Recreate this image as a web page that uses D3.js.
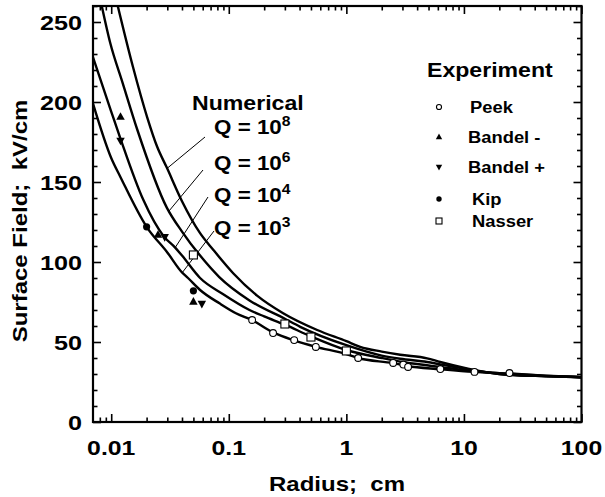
<!DOCTYPE html>
<html><head><meta charset="utf-8">
<script src="https://cdn.jsdelivr.net/npm/d3@7"></script>
<style>
body{margin:0;background:#fff}
svg{display:block}
text{font-family:"Liberation Sans",Arial,Helvetica,sans-serif;font-weight:bold;fill:#000}
</style>
</head><body><svg id="c" width="605" height="497"></svg>
<script>
// ---------- data ----------
const xTickValues = [0.01, 0.1, 1, 10, 100];
const xTickLabels = ["0.01", "0.1", "1", "10", "100"];
const yTickValues = [0, 50, 100, 150, 200, 250];
const yTickLabels = ["0", "50", "100", "150", "200", "250"];

const qExponents = ["8", "6", "4", "3"];

// Numerical curves (radius cm, surface field kV/cm)
const q3R = [0.007, 0.01, 0.012, 0.02, 0.03, 0.04, 0.045, 0.057, 0.084, 0.115, 0.158, 0.238, 0.36, 0.55, 1.0, 1.26, 2.5, 3.3, 6.3, 12, 25, 50, 100];
const q3V = [199, 165, 153, 122, 106, 93.5, 90, 82.5, 74, 68, 63.7, 56, 51, 47, 42.5, 40, 36.8, 35, 33, 31.3, 30.3, 29, 28];
const q4R = [0.007, 0.01, 0.012, 0.0187, 0.028, 0.035, 0.04, 0.057, 0.089, 0.15, 0.2, 0.3, 0.5, 1.0, 2, 3, 5, 10, 20, 50, 100];
const q4V = [228, 194, 177, 139, 116, 109, 104, 90, 80, 70, 66, 60.8, 53.5, 45, 40, 37.5, 35.3, 32.5, 30.5, 28.8, 28];
const q6R = [0.0082, 0.0098, 0.0125, 0.0167, 0.0297, 0.04, 0.057, 0.083, 0.15, 0.3, 0.405, 1.0, 2, 2.87, 4.86, 6.28, 10.6, 20, 50, 100];
const q6V = [262, 237, 212, 182.5, 134, 119, 104, 90.6, 76, 64.5, 59.5, 48, 41.5, 39.5, 37.5, 36, 33, 30, 28.6, 28];
const q8R = [0.0112, 0.0153, 0.0202, 0.0246, 0.0297, 0.04, 0.057, 0.074, 0.109, 0.174, 0.29, 0.565, 1.0, 1.31, 2, 2.87, 4.86, 6.28, 10.6, 20, 50, 100];
const q8V = [262, 222, 190.6, 172, 159, 138, 118, 107.5, 93, 79, 68, 57.5, 50.5, 47, 44, 42, 39.8, 37.5, 33.5, 30, 28.6, 28];

// Experiments
const peekR = [0.158, 0.238, 0.36, 0.55, 1.26, 2.5, 3.05, 3.35, 6.3, 12.3, 24.4];
const peekV = [63.75, 55.6, 51.2, 46.9, 40, 36.9, 35.9, 34.4, 33.1, 31.3, 30.6];
const bandelMinusR = [0.012, 0.025, 0.05];
const bandelMinusV = [190.8, 117, 75.2];
const bandelPlusR = [0.012, 0.0285, 0.059];
const bandelPlusV = [175.8, 115.6, 73.8];
const kipR = [0.02, 0.05];
const kipV = [122, 82];
const nasserR = [0.05, 0.3, 0.5, 1.0];
const nasserV = [104.4, 61.25, 53.1, 44.4];

const legendNames = ["Peek", "Bandel -", "Bandel +", "Kip", "Nasser"];

// ---------- layout ----------
const svg = d3.select("#c");
const L = 93, R = 581.5, T = 6, B = 422;
const x = d3.scaleLog().domain([0.007, 100]).range([L, R]);
const y = d3.scaleLinear().domain([0, 260]).range([B, T]);

function stext(g, px, py, str, size, anchor, sx, rot) {
  const gg = g.append("g").attr("transform",
    `translate(${px},${py})` + (rot ? ` rotate(${rot})` : "") + ` scale(${sx},1)`);
  return gg.append("text").attr("x", 0).attr("y", 0)
    .attr("font-size", size).attr("text-anchor", anchor).text(str);
}

// clip
svg.append("defs").append("clipPath").attr("id", "plot")
  .append("rect").attr("x", L).attr("y", T).attr("width", R - L).attr("height", B - T);

// ticks
const minorX = [];
for (let d = -3; d <= 1; d++) for (let k = 2; k <= 9; k++) {
  const v = k * Math.pow(10, d);
  if (v > 0.0071 && v < 100) minorX.push(v);
}
const minorY = d3.range(0, 261, 10).filter(v => v % 50 !== 0);

function styleAxis(g) {
  g.select(".domain").remove();
  g.selectAll("line").attr("stroke", "#000").attr("stroke-width", 1.6);
  g.selectAll("text").remove();
}
const axes = svg.append("g");
axes.append("g").attr("transform", `translate(0,${B})`).call(d3.axisBottom(x).tickValues(xTickValues).tickSize(-8).tickSizeOuter(0)).call(styleAxis);
axes.append("g").attr("transform", `translate(0,${B})`).call(d3.axisBottom(x).tickValues(minorX).tickSize(-4.5).tickSizeOuter(0)).call(styleAxis);
axes.append("g").attr("transform", `translate(0,${T})`).call(d3.axisTop(x).tickValues(xTickValues).tickSize(-8).tickSizeOuter(0)).call(styleAxis);
axes.append("g").attr("transform", `translate(0,${T})`).call(d3.axisTop(x).tickValues(minorX).tickSize(-4.5).tickSizeOuter(0)).call(styleAxis);
axes.append("g").attr("transform", `translate(${L},0)`).call(d3.axisLeft(y).tickValues(yTickValues).tickSize(-8).tickSizeOuter(0)).call(styleAxis);
axes.append("g").attr("transform", `translate(${L},0)`).call(d3.axisLeft(y).tickValues(minorY).tickSize(-4.5).tickSizeOuter(0)).call(styleAxis);
axes.append("g").attr("transform", `translate(${R},0)`).call(d3.axisRight(y).tickValues(yTickValues).tickSize(-8).tickSizeOuter(0)).call(styleAxis);
axes.append("g").attr("transform", `translate(${R},0)`).call(d3.axisRight(y).tickValues(minorY).tickSize(-4.5).tickSizeOuter(0)).call(styleAxis);

// tick labels
xTickValues.forEach((v, i) => stext(svg, x(v), 455, xTickLabels[i], 21, "middle", 1.18));
yTickValues.forEach((v, i) => stext(svg, 82, y(v) + 7.5, yTickLabels[i], 21, "end", 1.2));

// axis titles
stext(svg, 337, 491, "Radius;\u00A0 cm", 20, "middle", 1.2);
stext(svg, 27, 221, "Surface Field;\u00A0 kV/cm", 20, "middle", 1.2, -90);

// curves
const zip = (a, b) => a.map((v, i) => [v, b[i]]);
const curves = [zip(q8R, q8V), zip(q6R, q6V), zip(q4R, q4V), zip(q3R, q3V)];
const line = d3.line().x(d => x(d[0])).y(d => y(d[1])).curve(d3.curveMonotoneX);
svg.append("g").attr("clip-path", "url(#plot)").selectAll("path").data(curves).join("path")
  .attr("d", line).attr("fill", "none").attr("stroke", "#000").attr("stroke-width", 2.4)
  .attr("stroke-linejoin", "round");

// frame
svg.append("rect").attr("x", L).attr("y", T).attr("width", R - L).attr("height", B - T)
  .attr("fill", "none").attr("stroke", "#000").attr("stroke-width", 2.2);

// labels for numerical curves
function interp(rs, vs, r) {
  const lr = Math.log10(r);
  for (let i = 0; i < rs.length - 1; i++) {
    const a = Math.log10(rs[i]), b = Math.log10(rs[i + 1]);
    if (lr >= a && lr <= b) return vs[i] + (vs[i + 1] - vs[i]) * (lr - a) / (b - a);
  }
  return vs[vs.length - 1];
}
stext(svg, 192, 110, "Numerical", 21, "start", 1.1);
const qBase = [134, 170, 202, 235];
const leaderStart = [[205, 137], [203, 170], [208, 197], [214, 231]];
const leaderR = [0.0299, 0.031, 0.035, 0.0402];
const curveArrs = [[q8R, q8V], [q6R, q6V], [q4R, q4V], [q3R, q3V]];
qExponents.forEach((e, i) => {
  const t = stext(svg, 214, qBase[i], "", 20, "start", 1.12);
  t.append("tspan").text("Q = 10");
  t.append("tspan").attr("font-size", 14).attr("dy", -8).text(e);
  const rr = leaderR[i];
  const vv = interp(curveArrs[i][0], curveArrs[i][1], rr);
  svg.append("line").attr("x1", leaderStart[i][0]).attr("y1", leaderStart[i][1])
    .attr("x2", x(rr)).attr("y2", y(vv)).attr("stroke", "#000").attr("stroke-width", 1);
});

// markers
function triPath(s, up) {
  const h = s * 0.9, w = s / 2;
  return up ? `M0,${-h * 0.6}L${w},${h * 0.4}L${-w},${h * 0.4}Z`
            : `M0,${h * 0.6}L${w},${-h * 0.4}L${-w},${-h * 0.4}Z`;
}
const mk = svg.append("g");
function drawMarker(g, kind, px, py, big) {
  const s = big ? 1 : 0.75;
  if (kind === 0) g.append("circle").attr("cx", px).attr("cy", py).attr("r", 3.4 * s)
    .attr("fill", "#fff").attr("stroke", "#000").attr("stroke-width", 1.1);
  else if (kind === 1) g.append("path").attr("transform", `translate(${px},${py})`).attr("d", triPath(8.5 * s, true)).attr("fill", "#000");
  else if (kind === 2) g.append("path").attr("transform", `translate(${px},${py})`).attr("d", triPath(8.5 * s, false)).attr("fill", "#000");
  else if (kind === 3) g.append("circle").attr("cx", px).attr("cy", py).attr("r", 3.6 * s).attr("fill", "#000");
  else if (kind === 4) { const h = 4 * s; g.append("rect").attr("x", px - h).attr("y", py - h).attr("width", 2 * h).attr("height", 2 * h)
    .attr("fill", "#fff").attr("stroke", "#000").attr("stroke-width", 1.1); }
}
const expData = [[peekR, peekV], [bandelMinusR, bandelMinusV], [bandelPlusR, bandelPlusV], [kipR, kipV], [nasserR, nasserV]];
expData.forEach((d, k) => d[0].forEach((r, i) => drawMarker(mk, k, x(r), y(d[1][i]), true)));

// legend
stext(svg, 427, 77, "Experiment", 21, "start", 1.1);
const legY = [107, 137, 167, 199, 221];
const legX = [470, 468, 468, 472, 472];
legendNames.forEach((n, k) => {
  drawMarker(svg, k, 439, legY[k], false);
  stext(svg, legX[k], legY[k] + 6, n, 17, "start", 1.08);
});
</script></body></html>
